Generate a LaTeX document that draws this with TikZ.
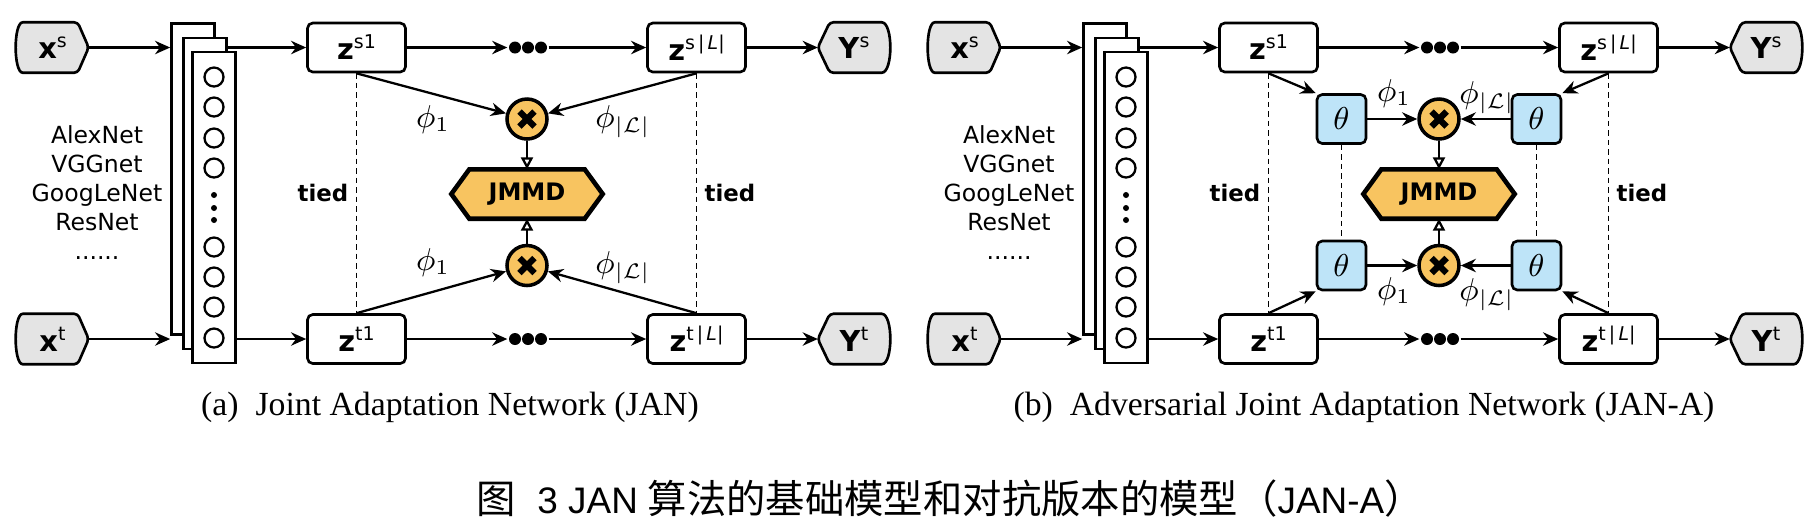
\documentclass[tikz,border=0pt]{standalone}
\usepackage{fontspec}
\setmainfont{Liberation Serif}
\setsansfont{DejaVu Sans}
\newfontfamily\cjk{Noto Sans CJK SC}
\newfontfamily\arialfont{Liberation Sans}
\usepackage{amsmath,amssymb}
\usepackage{tikz}
\usetikzlibrary{calc,positioning,arrows.meta,backgrounds}

\definecolor{jmorange}{RGB}{248,196,96}
\definecolor{thblue}{RGB}{190,228,248}
\definecolor{iogray}{RGB}{228,228,228}

\newcommand{\varlab}[2]{\textbf{#1}\raisebox{3.1pt}{\fontsize{5.4}{6}\selectfont #2}}

\tikzset{
  iobox/.style={minimum width=0.71cm, minimum height=0.49cm, inner sep=0pt,
    font=\sffamily\fontsize{8.2}{9}\selectfont},
  ioshape/.style={draw, fill=iogray, line width=0.75pt, rounded corners=1pt},
  zbox/.style={draw, fill=white, rounded corners=1.5pt, line width=0.75pt,
    minimum width=0.98cm, minimum height=0.49cm, inner sep=0pt,
    font=\sffamily\fontsize{8.2}{9}\selectfont},
  layer/.style={draw, fill=white, line width=0.75pt, minimum width=0.43cm,
    minimum height=3.11cm, inner sep=0pt},
  unit/.style={circle, draw, line width=0.65pt, minimum size=0.19cm, inner sep=0pt},
  dotrow/.style={minimum width=0.40cm, minimum height=0.12cm, inner sep=0pt},
  crossnode/.style={circle, draw, fill=jmorange, line width=1pt,
    minimum size=0.40cm, inner sep=0pt,
    path picture={\draw[line width=1.8pt] (path picture bounding box.center)
      +(-0.075,-0.075) -- +(0.075,0.075) +(-0.075,0.075) -- +(0.075,-0.075);}},
  jmbox/.style={minimum width=1.50cm, minimum height=0.48cm, inner sep=0pt,
    font=\sffamily\bfseries\fontsize{6.85}{8}\selectfont},
  jmshape/.style={draw, fill=jmorange, line width=1.3pt, line join=miter},
  thetabox/.style={draw, fill=thblue, rounded corners=1.5pt, line width=0.75pt,
    minimum size=0.49cm, inner sep=0pt, font=\fontsize{9}{10}\selectfont},
  netlist/.style={align=center, inner sep=0pt,
    font=\sffamily\fontsize{6.7}{8.25}\selectfont},
  tiedlab/.style={inner sep=0pt, font=\sffamily\bfseries\fontsize{6.5}{8}\selectfont},
  philab/.style={inner sep=0pt, font=\fontsize{9}{10}\selectfont},
  flow/.style={line width=0.65pt, -{Stealth[length=4.3pt, width=3.8pt, inset=1.4pt]}},
  merge/.style={line width=0.65pt, -{Triangle[open, length=3.4pt, width=3.4pt]}},
  tie/.style={line width=0.4pt, dash pattern=on 1.6pt off 1.1pt},
  subcap/.style={inner sep=0pt, font=\rmfamily\fontsize{9.6}{11}\selectfont},
  figcap/.style={inner sep=0pt, font=\fontsize{11.2}{13}\selectfont},
}

\begin{document}
\begin{tikzpicture}
  \useasboundingbox (0,0) rectangle (18.10,-5.24);

  % both panels share the same backbone
  \foreach \p/\dx in {a/0,b/9.12}{
  \begin{scope}[xshift=\dx cm]
    \node[iobox] (\p xs) at (0.525,-0.475) {\varlab{x}{s}};
    \node[iobox] (\p xt) at (0.525,-3.39) {\varlab{x}{t}};
    \node[netlist] (\p nets) at (0.97,-1.93) {AlexNet\\VGGnet\\GoogLeNet\\ResNet\\......};

    % stacked layers
    \node[layer] (\p l1) at (1.93,-1.79) {};
    \node[layer] (\p l2) at (2.05,-1.935) {};
    \node[layer] (\p l3) at (2.14,-2.075) {};
    \foreach \y [count=\k] in {0.77,1.07,1.38,1.68,2.47,2.77,3.07,3.38}
      \node[unit] (\p u\k) at (2.14,-\y) {};
    \foreach \y in {1.95,2.08,2.20}
      \fill (2.14,-\y) circle (0.03);

    \node[zbox] (\p zs1) at (3.565,-0.475) {\varlab{z}{s1}};
    \node[zbox] (\p zt1) at (3.565,-3.39) {\varlab{z}{t1}};
    \node[dotrow] (\p ds) at (5.28,-0.475) {};
    \node[dotrow] (\p dt) at (5.28,-3.39) {};
    \fill (\p ds) +(-0.13,0) circle (0.06) +(0,0) circle (0.06) +(0.13,0) circle (0.06);
    \fill (\p dt) +(-0.13,0) circle (0.06) +(0,0) circle (0.06) +(0.13,0) circle (0.06);
    \node[zbox] (\p zsl) at (6.965,-0.475) {\varlab{z}{s\,|\,\textit{L}|}};
    \node[zbox] (\p ztl) at (6.965,-3.39) {\varlab{z}{t\,|\,\textit{L}|}};
    \node[iobox] (\p ys) at (8.54,-0.475) {\varlab{Y}{s}};
    \node[iobox] (\p yt) at (8.54,-3.39) {\varlab{Y}{t}};

    \node[crossnode] (\p mt) at (5.27,-1.19) {};
    \node[crossnode] (\p mb) at (5.27,-2.655) {};
    \node[jmbox] (\p jm) at (5.27,-1.94) {JMMD};

    \node[tiedlab] (\p tl) at (3.23,-1.93) {tied};
    \node[tiedlab] (\p tr) at (7.30,-1.93) {tied};

    % rows
    \draw[flow] (\p xs.east) -- (\p xs.east -| \p l1.west);
    \draw[flow] (\p xt.east) -- (\p xt.east -| \p l1.west);
    \draw[flow] (\p zs1.west -| \p l2.east) -- (\p zs1.west);
    \draw[flow] (\p zt1.west -| \p l3.east) -- (\p zt1.west);
    \draw[flow] (\p zs1) -- (\p ds);
    \draw[flow] (\p zt1) -- (\p dt);
    \draw[flow] (\p ds) -- (\p zsl);
    \draw[flow] (\p dt) -- (\p ztl);
    \draw[flow] (\p zsl) -- (\p ys);
    \draw[flow] (\p ztl) -- (\p yt);

    \draw[merge] (\p mt) -- (\p jm);
    \draw[merge] (\p mb) -- (\p jm);
    \draw[tie] (\p zs1) -- (\p zt1);
    \draw[tie] (\p zsl) -- (\p ztl);

    \begin{scope}[on background layer]
      \foreach \n in {xs,xt}
        \filldraw[ioshape] ([xshift=-0.11cm]\p\n.north east) -- (\p\n.east)
          -- ([xshift=-0.11cm]\p\n.south east) -- ([xshift=0.10cm]\p\n.south west)
          .. controls ([xshift=-0.03cm]\p\n.south west) and ([xshift=-0.03cm]\p\n.north west)
          .. ([xshift=0.10cm]\p\n.north west) -- cycle;
      \foreach \n in {ys,yt}
        \filldraw[ioshape] (\p\n.west) -- ([xshift=0.12cm]\p\n.north west)
          -- ([xshift=-0.12cm]\p\n.north east)
          .. controls ([xshift=0.03cm]\p\n.north east) and ([xshift=0.03cm]\p\n.south east)
          .. ([xshift=-0.12cm]\p\n.south east)
          -- ([xshift=0.12cm]\p\n.south west) -- cycle;
      \filldraw[jmshape] (\p jm.west) -- ([xshift=0.18cm]\p jm.north west)
        -- ([xshift=-0.18cm]\p jm.north east) -- (\p jm.east)
        -- ([xshift=-0.18cm]\p jm.south east) -- ([xshift=0.18cm]\p jm.south west) -- cycle;
    \end{scope}
  \end{scope}
  }

  % (a) features go straight into the kernels
  \draw[flow] (azs1.south) -- (amt);
  \draw[flow] (azsl.south) -- (amt);
  \draw[flow] (azt1.north) -- (amb);
  \draw[flow] (aztl.north) -- (amb);
  \node[philab] (aphi1t) at (4.33,-1.20) {$\phi_1$};
  \node[philab] (aphilt) at (6.23,-1.22) {$\phi_{|\mathcal{L}|}$};
  \node[philab] (aphi1b) at (4.33,-2.63) {$\phi_1$};
  \node[philab] (aphilb) at (6.23,-2.68) {$\phi_{|\mathcal{L}|}$};

  % (b) adversarial layers theta
  \node[thetabox] (bth1) at (13.415,-1.19) {$\theta$};
  \node[thetabox] (bth2) at (15.365,-1.19) {$\theta$};
  \node[thetabox] (bth3) at (13.415,-2.655) {$\theta$};
  \node[thetabox] (bth4) at (15.365,-2.655) {$\theta$};
  \draw[flow] (bzs1.south) -- (bth1.north west);
  \draw[flow] (bzsl.south) -- (bth2.north east);
  \draw[flow] (bzt1.north) -- (bth3.south west);
  \draw[flow] (bztl.north) -- (bth4.south east);
  \draw[flow] (bth1) -- (bmt);
  \draw[flow] (bth2) -- (bmt);
  \draw[flow] (bth3) -- (bmb);
  \draw[flow] (bth4) -- (bmb);
  \draw[tie] (bth1) -- (bth3);
  \draw[tie] (bth2) -- (bth4);
  \node[philab] (bphi1t) at (13.94,-0.94) {$\phi_1$};
  \node[philab] (bphilt) at (14.87,-0.98) {$\phi_{|\mathcal{L}|}$};
  \node[philab] (bphi1b) at (13.94,-2.92) {$\phi_1$};
  \node[philab] (bphilb) at (14.87,-2.95) {$\phi_{|\mathcal{L}|}$};

  % captions
  \node[subcap] (capa) at (4.50,-4.07) {(a)\enspace Joint Adaptation Network (JAN)};
  \node[subcap] (capb) at (13.64,-4.07) {(b)\enspace Adversarial Joint Adaptation Network (JAN-A)};
  \node[figcap] (capfig) at (9.50,-4.99) {{\cjk 图}\hspace{0.55em}{\arialfont\fontsize{10.5}{13}\selectfont 3 JAN} {\cjk 算法的基础模型和对抗版本的模型（}{\arialfont\fontsize{10.5}{13}\selectfont JAN-A}{\cjk ）}};
\end{tikzpicture}
\end{document}
